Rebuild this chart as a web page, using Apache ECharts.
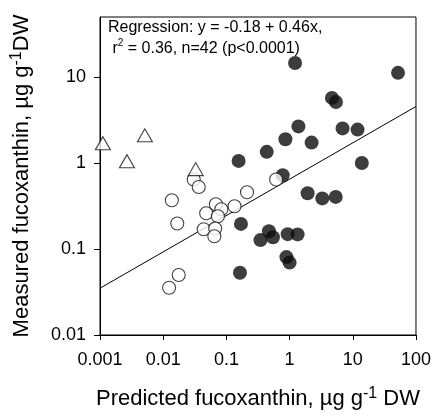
<!DOCTYPE html>
<html><head><meta charset="utf-8">
<script src="https://cdn.jsdelivr.net/npm/echarts@6/dist/echarts.min.js"></script>
<style>html,body{margin:0;padding:0;background:#fff}#c{width:434px;height:418px}</style>
</head><body><div id="c"></div>
<script>
const xTicks = [0.001, 0.01, 0.1, 1, 10, 100];
const yTicks = [0.01, 0.1, 1, 10];
const xLabels = ['0.001', '0.01', '0.1', '1', '10', '100'];
const yLabels = ['0.01', '0.1', '1', '10'];

const triX = [0.00111, 0.00513, 0.00267, 0.0327];
const triY = [1.70, 2.10, 1.05, 0.85];

const openX = [0.0137, 0.0167, 0.0304, 0.0365, 0.0479, 0.0682, 0.0832, 0.0734, 0.0437, 0.0664, 0.0644, 0.1346, 0.212, 0.612, 0.0176, 0.0124];
const openY = [0.370, 0.198, 0.643, 0.527, 0.261, 0.332, 0.290, 0.241, 0.170, 0.173, 0.141, 0.315, 0.458, 0.643, 0.0498, 0.0354];

const filledX = [1.22, 52.0, 4.68, 5.41, 1.38, 6.89, 11.9, 0.859, 2.23, 0.435, 0.156, 13.9, 0.778, 1.93, 3.29, 5.37, 0.170, 0.346, 0.471, 0.545, 0.933, 1.34, 0.891, 1.00, 0.164];
const filledY = [14.6, 11.2, 5.73, 5.13, 2.67, 2.53, 2.45, 1.89, 1.73, 1.35, 1.06, 1.00, 0.721, 0.446, 0.388, 0.404, 0.196, 0.127, 0.161, 0.137, 0.149, 0.148, 0.0806, 0.0695, 0.053];

const regX = [0.001, 100];
const regY = [0.035, 4.55];

const zip = (a, b) => a.map((v, i) => [v, b[i]]);
const FONT = '"Liberation Sans", Arial, Helvetica, sans-serif';

const chart = echarts.init(document.getElementById('c'), null, {renderer: 'canvas'});
chart.setOption({
  animation: false,
  backgroundColor: '#fff',
  grid: {left: 100, right: 17, top: 17, bottom: 83, show: true, borderColor: '#000', borderWidth: 1, backgroundColor: 'transparent'},
  xAxis: {
    type: 'log', logBase: 10, min: 0.001, max: 100,
    splitLine: {show: false},
    axisLine: {lineStyle: {color: '#000', width: 1}},
    axisTick: {length: 5, lineStyle: {color: '#000'}, customValues: xTicks},
    axisLabel: {customValues: xTicks, margin: 16, color: '#000', fontSize: 18, fontFamily: FONT,
      formatter: v => { const i = xTicks.findIndex(t => Math.abs(Math.log10(t) - Math.log10(v)) < 1e-6); return i >= 0 ? xLabels[i] : ''; }},
    name: '{m|Predicted fucoxanthin, µg g}{sup|-1}{m| DW}',
    nameLocation: 'middle', nameGap: 51,
    nameTextStyle: {color: '#000', fontFamily: FONT,
      rich: {m: {fontSize: 22, lineHeight: 26, fontFamily: FONT, color: '#000'},
             sup: {fontSize: 16, lineHeight: 16, verticalAlign: 'top', fontFamily: FONT, color: '#000'}}}
  },
  yAxis: {
    type: 'log', logBase: 10, min: 0.01, max: 50,
    splitLine: {show: false},
    axisLine: {lineStyle: {color: '#000', width: 1}},
    axisTick: {length: 6, lineStyle: {color: '#000'}, customValues: yTicks},
    axisLabel: {customValues: yTicks, margin: 14, color: '#000', fontSize: 18, fontFamily: FONT,
      formatter: v => { const i = yTicks.findIndex(t => Math.abs(Math.log10(t) - Math.log10(v)) < 1e-6); return i >= 0 ? yLabels[i] : ''; }},
    name: '{m|Measured fucoxanthin, µg g}{sup|-1}{m|DW}',
    nameLocation: 'middle', nameGap: 65,
    nameTextStyle: {color: '#000', fontFamily: FONT,
      rich: {m: {fontSize: 22, lineHeight: 26, fontFamily: FONT, color: '#000'},
             sup: {fontSize: 16, lineHeight: 16, verticalAlign: 'top', fontFamily: FONT, color: '#000'}}}
  },
  graphic: [{
    type: 'text', left: 108, top: 20, z: 100,
    style: {
      text: '{a|Regression: y = -0.18 + 0.46x,}\n{a| r}{s|2}{a| = 0.36, n=42 (p<0.0001)}',
      rich: {a: {fontSize: 16, lineHeight: 21, fontFamily: FONT, fill: '#000'},
             s: {fontSize: 10, lineHeight: 10, verticalAlign: 'top', fontFamily: FONT, fill: '#000'}}
    }
  }],
  series: [
    {type: 'line', data: zip(regX, regY), symbol: 'none', lineStyle: {color: '#000', width: 1}, silent: true, z: 1},
    {type: 'scatter', data: zip(filledX, filledY), symbol: 'circle', symbolSize: 14,
      itemStyle: {color: '#0d0d0d', borderColor: '#0d0d0d', borderWidth: 0}, z: 2},
    {type: 'scatter', data: zip(openX, openY), symbol: 'circle', symbolSize: 13,
      itemStyle: {color: '#fff', borderColor: '#111', borderWidth: 1.1}, z: 3},
    {type: 'scatter', data: zip(triX, triY), symbol: 'triangle', symbolSize: [15, 13],
      itemStyle: {color: '#fff', borderColor: '#111', borderWidth: 1.1}, z: 4}
  ]
});
</script></body></html>
